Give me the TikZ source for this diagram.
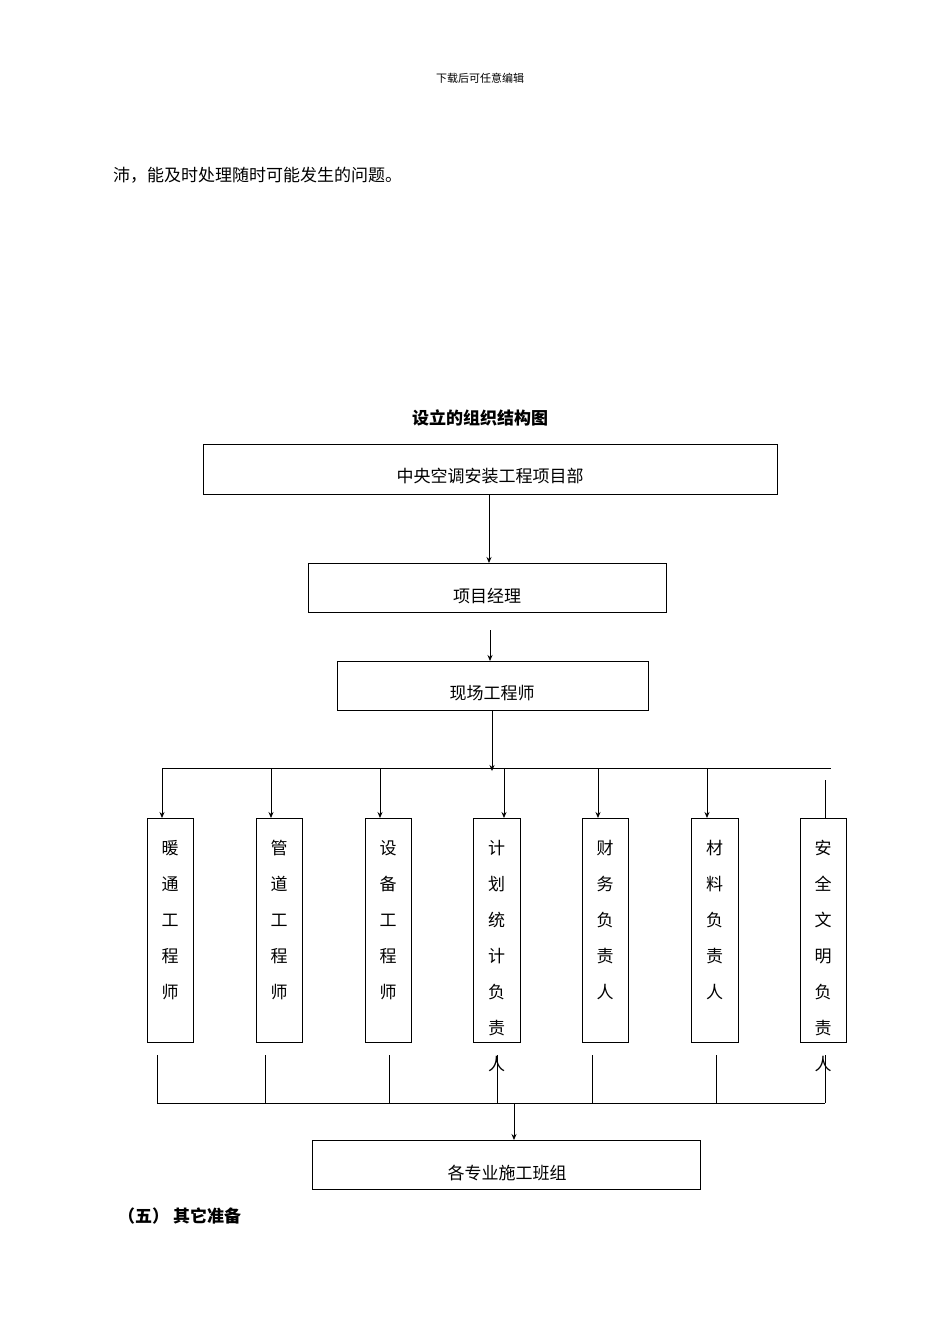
\documentclass[tikz,border=0pt]{standalone}
\usepackage{fontspec}
\newfontfamily\cjk{Noto Sans CJK SC}
\usetikzlibrary{arrows.meta}
\begin{document}
\begin{tikzpicture}[x=1pt,y=-1pt,
 box/.style={draw,line width=0.8pt,inner sep=0pt},
 ln/.style={line width=0.8pt},
 ar/.style={ln,-{Stealth[length=6pt,width=5pt]}},
 txt/.style={font=\cjk\fontsize{17}{20}\selectfont,inner sep=0pt},
 vt/.style={font=\cjk\fontsize{17}{36}\selectfont,inner sep=0pt,align=center,anchor=north}]
\useasboundingbox (0,0) rectangle (950,1344);
\node[font=\cjk\fontsize{11}{13}\selectfont] (hdr) at (480,78) {下载后可任意编辑};
\node[txt,anchor=west] (p1) at (113,175) {沛，能及时处理随时可能发生的问题。};
\node[txt,font=\cjk\bfseries\fontsize{17}{20}\selectfont] (title) at (480,418) {设立的组织结构图};
\draw[box] (203,444) rectangle (777,494); \node[txt] (b1) at (490,476) {中央空调安装工程项目部};
\draw[box] (308,563) rectangle (666,612); \node[txt] (b2) at (487,596) {项目经理};
\draw[box] (337,661) rectangle (648,710); \node[txt] (b3) at (492,693) {现场工程师};
\coordinate (a1) at (489,494); \coordinate (a2) at (489,563);
\draw[ar] (a1) -- (a2);
\coordinate (c1) at (490,630); \coordinate (c2) at (490,661);
\draw[ar] (c1) -- (c2);
\coordinate (d1) at (492,710); \coordinate (d2) at (492,771);
\draw[ar] (d1) -- (d2);
\coordinate (hl) at (162,768); \coordinate (hr) at (831,768);
\draw[ln] (hl) -- (hr);
\foreach \x in {162,271,380,504,598,707}{\draw[ar] (\x,768) -- (\x,818);}
\draw[ln] (825,780) -- (825,818);
\foreach \l/\r/\t [count=\i] in {147/193/暖\\通\\工\\程\\师, 256/302/管\\道\\工\\程\\师, 365/411/设\\备\\工\\程\\师, 473/520/计\\划\\统\\计\\负\\责\\人, 582/628/财\\务\\负\\责\\人, 691/738/材\\料\\负\\责\\人, 800/846/安\\全\\文\\明\\负\\责\\人}{
 \draw[box] (\l,818) rectangle (\r,1042);
 \node[vt] (v\i) at ({(\l+\r)/2},840) {\t};}
\foreach \x in {157,265,389,497,592,716,825}{\draw[ln] (\x,1055) -- (\x,1103);}
\draw[ln] (157,1103) -- (825,1103);
\coordinate (e1) at (514,1103); \coordinate (e2) at (514,1140);
\draw[ar] (e1) -- (e2);
\draw[box] (312,1140) rectangle (700,1189); \node[txt] (b4) at (507,1173) {各专业施工班组};
\node[txt,anchor=west,font=\cjk\bfseries\fontsize{17}{20}\selectfont] (s5) at (118,1216) {（五） 其它准备};
\end{tikzpicture}
\end{document}
